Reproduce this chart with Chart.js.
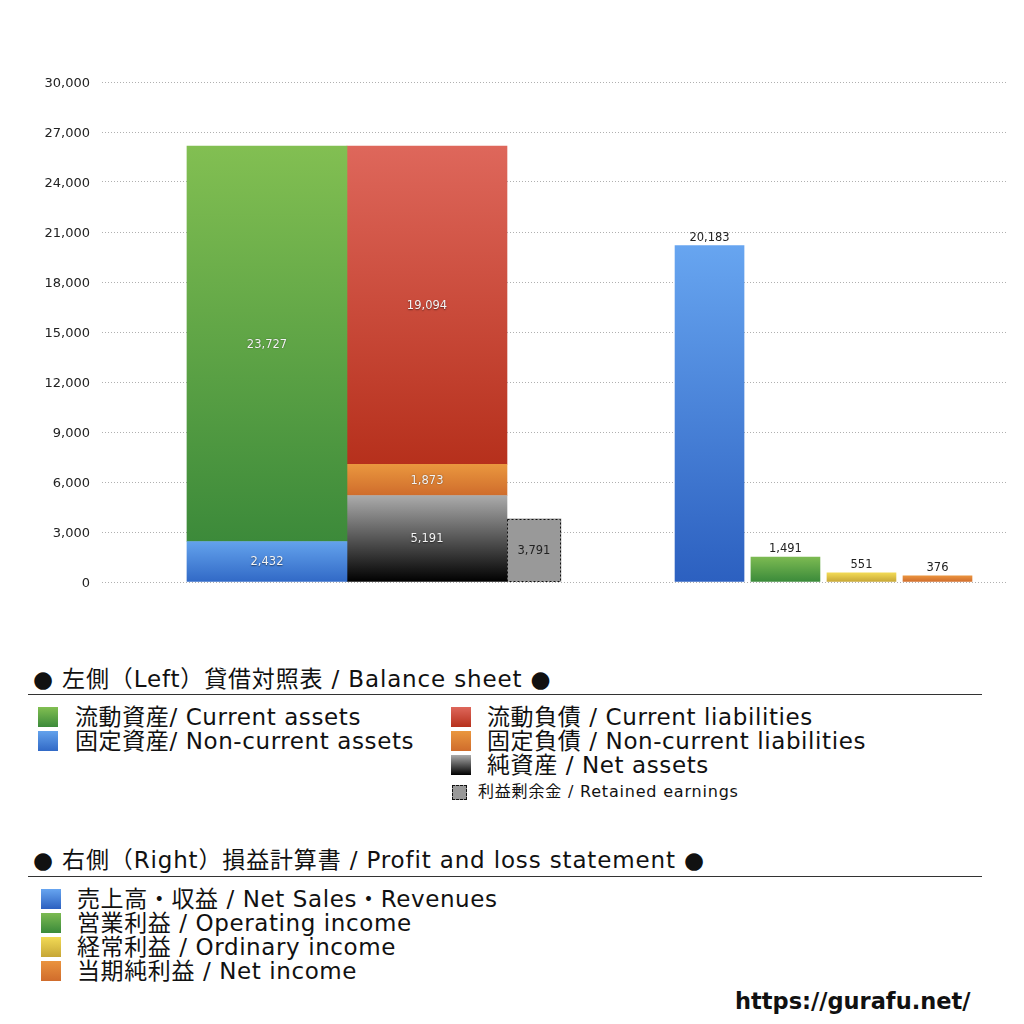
<!DOCTYPE html>
<html>
<head>
<meta charset="utf-8">
<script src="https://cdn.jsdelivr.net/npm/chart.js@4.4.1/dist/chart.umd.min.js"></script>
<style>
  html, body { margin:0; padding:0; background:#fff; }
  body { width:1024px; height:1024px; position:relative; overflow:hidden;
         font-family: "DejaVu Sans", "Noto Sans CJK JP", sans-serif; color:#111; }
  #wrap { position:absolute; left:0; top:0; width:1024px; height:620px; }
  .hdr { position:absolute; left:33px; font-size:23px; letter-spacing:0.85px; line-height:26px; white-space:nowrap; }
  .rule { position:absolute; left:28px; width:954px; height:0; border-top:1px solid #333; }
  .item { position:absolute; font-size:23px; letter-spacing:0.6px; line-height:24px; white-space:nowrap; }
  .sw { position:absolute; width:20px; height:20px; }
  .small { position:absolute; font-size:16px; letter-spacing:0.8px; line-height:18px; white-space:nowrap; }
  .url { position:absolute; left:735px; top:988px; font-size:22.5px; font-weight:bold; font-family:"DejaVu Sans", "Noto Sans", sans-serif; }
</style>
</head>
<body>
<div id="wrap"><canvas id="c"></canvas></div>

<div class="hdr" style="top:666px;">● 左側（Left）貸借対照表 / Balance sheet ●</div>
<div class="rule" style="top:694px;"></div>
<div id="bsLegend"></div>

<div class="hdr" style="top:847px;">● 右側（Right）損益計算書 / Profit and loss statement ●</div>
<div class="rule" style="top:876px;"></div>
<div id="plLegend"></div>

<div class="url">https://gurafu.net/</div>

<script>
// ---------------- data ----------------
const yTicks = [0, 3000, 6000, 9000, 12000, 15000, 18000, 21000, 24000, 27000, 30000];

const assetLabels = ['固定資産/ Non-current assets', '流動資産/ Current assets'];
const assetValues = [2432, 23727];

const liabLabels = ['純資産 / Net assets', '固定負債 / Non-current liabilities', '流動負債 /  Current liabilities'];
const liabValues = [5191, 1873, 19094];

const retainedLabel = ['利益剰余金 / Retained earnings'];
const retainedValue = [3791];

const plLabels = ['売上高・収益 / Net Sales・Revenues', '営業利益 / Operating income', '経常利益 / Ordinary income', '当期純利益 / Net income'];
const plValues = [20183, 1491, 551, 376];

// ---------------- layout / style ----------------
const slot = { assets: 18.23, liab: 35.91, ret: 47.73, pl: [67.13, 75.52, 83.92, 92.32] };
const colors = {
  nonCurAssets: ['#63a2ec', '#3169c6'],
  curAssets:    ['#82bf52', '#3c8a3a'],
  netAssets:    ['#ababab', '#000000'],
  nonCurLiab:   ['#ea973e', '#cf6c2c'],
  curLiab:      ['#de675b', '#b6301c'],
  retained:     ['#999999', '#999999'],
  pl: [['#67a5f0', '#2c60c0'], ['#7cba52', '#3a8a3a'], ['#f2da55', '#c6a636'], ['#ea933e', '#d06c2c']]
};
const assetColors = [colors.nonCurAssets, colors.curAssets];
const liabColors = [colors.netAssets, colors.nonCurLiab, colors.curLiab];

function gradFor(pair, startVal, endVal) {
  return (ctx) => {
    const chart = ctx.chart;
    const ys = chart.scales.y;
    if (!chart.chartArea || !ys) return pair[1];
    const top = ys.getPixelForValue(endVal);
    const bot = ys.getPixelForValue(startVal);
    if (!isFinite(top) || !isFinite(bot) || top === bot) return pair[1];
    const g = chart.ctx.createLinearGradient(0, top, 0, bot);
    g.addColorStop(0, pair[0]);
    g.addColorStop(1, pair[1]);
    return g;
  };
}

const datasets = [];
let cum = 0;
assetValues.forEach((v, i) => {
  datasets.push({ label: assetLabels[i], data: [{ x: slot.assets, y: v }], barThickness: 160,
    backgroundColor: gradFor(assetColors[i], cum, cum + v), labelStyle: 'inside' });
  cum += v;
});
cum = 0;
liabValues.forEach((v, i) => {
  datasets.push({ label: liabLabels[i], data: [{ x: slot.liab, y: v }], barThickness: 160,
    backgroundColor: gradFor(liabColors[i], cum, cum + v), labelStyle: 'inside' });
  cum += v;
});
datasets.push({ label: retainedLabel[0], data: [{ x: slot.ret, y: retainedValue[0] }], barThickness: 54,
  backgroundColor: colors.retained[0], labelStyle: 'insideDark', dashed: true });
datasets.push({ label: 'PL', data: plValues.map((v, i) => ({ x: slot.pl[i], y: v })), barThickness: 69,
  backgroundColor: (ctx) => gradFor(colors.pl[ctx.dataIndex] || colors.pl[0], 0, plValues[ctx.dataIndex] || 0)(ctx),
  labelStyle: 'above' });

const fmt = (v) => v.toLocaleString('en-US');

const labelPlugin = {
  id: 'valueLabels',
  afterDatasetsDraw(chart) {
    const c = chart.ctx;
    chart.data.datasets.forEach((ds, di) => {
      const meta = chart.getDatasetMeta(di);
      meta.data.forEach((el, i) => {
        const p = el.getProps(['x', 'y', 'base', 'width'], true);
        const v = ds.data[i].y;
        c.save();
        if (ds.dashed) {
          c.strokeStyle = '#111';
          c.lineWidth = 1;
          c.setLineDash([2, 2]);
          c.strokeRect(Math.round(p.x - p.width / 2) + 0.5, Math.round(p.y) + 0.5, Math.round(p.width) - 1, Math.round(p.base - p.y) - 1);
          c.setLineDash([]);
        }
        c.font = '11.5px "DejaVu Sans", "Noto Sans", sans-serif';
        c.textAlign = 'center';
        if (ds.labelStyle === 'above') {
          c.textBaseline = 'bottom';
          c.fillStyle = '#222';
          c.fillText(fmt(v), p.x, p.y - 2);
        } else {
          c.textBaseline = 'middle';
          if (ds.labelStyle === 'inside') {
            c.shadowColor = 'rgba(0,0,0,0.55)';
            c.shadowBlur = 1.5;
            c.shadowOffsetY = 0.5;
            c.fillStyle = '#f4f4f4';
          } else {
            c.fillStyle = '#222';
          }
          c.fillText(fmt(v), p.x, (p.y + p.base) / 2 + 1);
        }
        c.restore();
      });
    });
  }
};

new Chart(document.getElementById('c'), {
  type: 'bar',
  data: { datasets },
  options: {
    responsive: true,
    maintainAspectRatio: false,
    animation: false,
    devicePixelRatio: 1,
    datasets: { bar: { grouped: false, borderWidth: 0 } },
    layout: { padding: { left: 0, right: 17, top: 82, bottom: 38 } },
    plugins: { legend: { display: false }, tooltip: { enabled: false } },
    scales: {
      x: { type: 'linear', min: 0, max: 100, display: false, offset: false },
      y: {
        stacked: true, min: 0, max: 30000,
        afterBuildTicks: (s) => { s.ticks = yTicks.map(v => ({ value: v })); },
        afterFit: (s) => { s.width = 102; },
        border: { display: false, dash: [1, 2] },
        grid: { color: '#b0b0b0', lineWidth: 1, drawTicks: false },
        ticks: { padding: 12, labelOffset: 1.5, color: '#222', font: { size: 13, family: '"DejaVu Sans", sans-serif' },
                 callback: (v) => fmt(v) }
      }
    }
  },
  plugins: [labelPlugin]
});

// ---------------- HTML legends ----------------
function swatch(pair, left, top, size, dashed) {
  const d = document.createElement('div');
  d.className = 'sw';
  d.style.left = left + 'px';
  d.style.top = top + 'px';
  d.style.width = size + 'px';
  d.style.height = size + 'px';
  d.style.background = 'linear-gradient(' + pair[0] + ',' + pair[1] + ')';
  if (dashed) { d.style.border = '1px dashed #111'; d.style.boxSizing = 'border-box'; }
  return d;
}
function item(text, left, top, cls) {
  const d = document.createElement('div');
  d.className = cls || 'item';
  d.style.left = left + 'px';
  d.style.top = top + 'px';
  d.textContent = text;
  return d;
}
const bs = document.getElementById('bsLegend');
const leftCol = [[assetLabels[1], assetColors[1]], [assetLabels[0], assetColors[0]]];
leftCol.forEach((e, i) => {
  bs.appendChild(swatch(e[1], 38, 707 + i * 24, 20));
  bs.appendChild(item(e[0], 75, 705 + i * 24));
});
const rightCol = [[liabLabels[2], liabColors[2]], [liabLabels[1], liabColors[1]], [liabLabels[0], liabColors[0]]];
rightCol.forEach((e, i) => {
  bs.appendChild(swatch(e[1], 451, 707 + i * 24, 20));
  bs.appendChild(item(e[0], 487, 705 + i * 24));
});
bs.appendChild(swatch(colors.retained, 452, 785, 15, true));
bs.appendChild(item(retainedLabel[0], 478, 783, 'small'));

const pl = document.getElementById('plLegend');
plLabels.forEach((t, i) => {
  pl.appendChild(swatch(colors.pl[i], 41, 889 + i * 24, 20));
  pl.appendChild(item(t, 77, 887 + i * 24));
});
</script>
</body>
</html>
